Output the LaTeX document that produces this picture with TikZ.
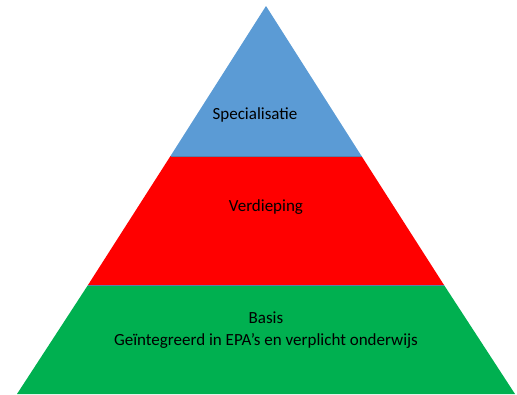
\documentclass[tikz,border=0pt]{standalone}
\usepackage{fontspec}
\setmainfont{Carlito}
\definecolor{topblue}{HTML}{5B9BD5}
\definecolor{midred}{HTML}{FF0000}
\definecolor{basegreen}{HTML}{00B050}
\definecolor{edge}{HTML}{5A7FA8}
\begin{document}
\begin{tikzpicture}[x=1pt,y=-1pt,
  band/.style={line width=0.5pt,draw=edge},
  lbl/.style={font=\fontsize{17}{22}\selectfont,text=black,align=center,inner sep=0pt,anchor=base}]
\useasboundingbox (0,0) rectangle (517,394);
\coordinate (apex) at (266,6);
\coordinate (l1) at (170.5,156);
\coordinate (r1) at (361.5,156);
\coordinate (l2) at (88,285);
\coordinate (r2) at (444,285);
\coordinate (l3) at (17,394);
\coordinate (r3) at (515,394);
\fill[basegreen] (l2) -- (r2) -- (r3) -- (l3) -- cycle;
\fill[midred] (l1) -- (r1) -- (r2) -- (l2) -- cycle;
\fill[topblue] (apex) -- (r1) -- (l1) -- cycle;
\draw[band] (l1) -- (r1);
\draw[band] (l2) -- (r2);
\node[lbl] (spec) at (255,119.5) {Specialisatie};
\node[lbl] (verd) at (266,211) {Verdieping};
\node[lbl] (basis) at (266,345) {Basis\\Geïntegreerd in EPA’s en verplicht onderwijs};
\end{tikzpicture}
\end{document}
